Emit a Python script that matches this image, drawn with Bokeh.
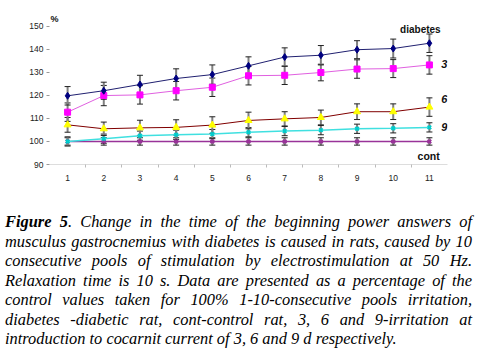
from bokeh.plotting import figure
from bokeh.models import (ColumnDataSource, Range1d, FixedTicker, Whisker, TeeHead,
                          Label, Div)
from bokeh.layouts import column
from bokeh.embed import file_html
from bokeh.resources import INLINE

# ---- data ----
pools = [1, 2, 3, 4, 5, 6, 7, 8, 9, 10, 11]
diabetes = [119.8, 122.0, 124.7, 127.3, 129.0, 132.8, 136.6, 137.4, 139.8, 140.3, 142.6]
diabetes_err = [4.0, 3.7, 4.0, 4.2, 4.2, 3.9, 4.0, 4.2, 3.9, 4.1, 4.0]
day3 = [112.7, 119.9, 120.2, 122.0, 123.5, 128.5, 128.7, 129.9, 131.4, 131.6, 133.2]
day3_err = [4.0, 4.4, 4.0, 4.0, 4.0, 4.0, 4.0, 3.6, 4.0, 3.9, 4.0]
day6 = [107.2, 105.5, 105.9, 106.1, 107.1, 109.1, 109.8, 110.4, 112.9, 112.9, 114.9]
day6_err = [3.2, 2.9, 3.3, 3.3, 3.6, 3.6, 3.1, 3.2, 3.4, 3.4, 4.0]
day9 = [100.0, 101.2, 102.5, 102.9, 103.2, 104.0, 104.5, 104.9, 105.5, 105.7, 106.1]
day9_err = [2.0, 2.0, 2.0, 2.0, 2.0, 2.0, 2.0, 2.0, 2.0, 2.0, 2.0]
cont = [100.0] * 11
cont_err = [1.6] * 11
y_ticks = [90, 100, 110, 120, 130, 140, 150]

p = figure(width=471, height=207, output_backend="svg", toolbar_location=None,
           x_range=Range1d(0.5, 11.5), y_range=Range1d(90, 156.8),
           min_border_left=49, min_border_right=24, min_border_top=10, min_border_bottom=43)
p.outline_line_color = None
p.grid.visible = False
p.background_fill_color = "white"

# axes
p.xaxis.ticker = FixedTicker(ticks=pools, minor_ticks=[i + 0.5 for i in range(1, 11)])
p.xaxis.axis_line_color = "#dddddd"
p.xaxis.major_tick_line_color = None
p.xaxis.minor_tick_line_color = "#bbbbbb"
p.xaxis.minor_tick_out = 3
p.xaxis.minor_tick_in = 0
p.xaxis.major_label_standoff = 4
p.xaxis.major_label_text_font = "Liberation Sans"
p.xaxis.major_label_text_font_size = "8.5px"
p.xaxis.major_label_text_color = "#222222"

p.yaxis.ticker = FixedTicker(ticks=y_ticks)
p.yaxis.axis_line_color = None
p.yaxis.major_tick_line_color = "#999999"
p.yaxis.major_tick_out = 3
p.yaxis.major_tick_in = 0
p.yaxis.minor_tick_line_color = None
p.yaxis.major_label_standoff = 3
p.yaxis.major_label_text_font = "Liberation Sans"
p.yaxis.major_label_text_font_size = "8.5px"
p.yaxis.major_label_text_color = "#222222"

series = [
    (cont, cont_err, "#993399", "#993399", "x", 5, 1.5),
    (day9, day9_err, "#40e0e0", "#00cccc", "x", 5, 1.5),
    (day6, day6_err, "#800000", "#ffff00", "triangle", 7, 1),
    (day3, day3_err, "#e060e0", "#ff00ff", "square", 6, 1),
    (diabetes, diabetes_err, "#202070", "#000080", "diamond", 7, 1),
]

for vals, errs, lcol, mcol, marker, msize, lw in series:
    src = ColumnDataSource(dict(x=pools, y=vals,
                                lo=[v - e for v, e in zip(vals, errs)],
                                hi=[v + e for v, e in zip(vals, errs)]))
    w = Whisker(source=src, base="x", lower="lo", upper="hi",
                line_color="#808080", line_width=2,
                upper_head=TeeHead(size=6, line_color="#222222", line_width=1),
                lower_head=TeeHead(size=6, line_color="#222222", line_width=1))
    p.add_layout(w)

for vals, errs, lcol, mcol, marker, msize, lw in series:
    src = ColumnDataSource(dict(x=pools, y=vals))
    p.line("x", "y", source=src, line_color=lcol, line_width=lw)
    if marker == "x":
        p.scatter("x", "y", source=src, marker=marker, size=msize,
                  line_color=mcol, line_width=2)
    else:
        p.scatter("x", "y", source=src, marker=marker, size=msize,
                  fill_color=mcol, line_color=mcol)

labels = [
    ("diabetes", 10.75, 148.6, "10px", "bold"),
    ("3", 11.41, 133.8, "11px", "bold italic"),
    ("6", 11.41, 118.2, "11px", "bold italic"),
    ("9", 11.41, 106.1, "11px", "bold italic"),
    ("cont", 10.98, 93.5, "10.5px", "bold"),
    ("%", 0.64, 152.9, "9px", "bold"),
]
for txt, lx, ly, fs, style in labels:
    p.add_layout(Label(x=lx, y=ly, text=txt, text_font="Liberation Sans",
                       text_font_size=fs, text_font_style=style,
                       text_align="center", text_baseline="middle",
                       text_color="#111111"))

caption_lines = [
    "<b>Figure 5</b>. Change in the time of the beginning power answers of",
    "musculus gastrocnemius with diabetes is caused in rats, caused by 10",
    "consecutive pools of stimulation by electrostimulation at 50 Hz.",
    "Relaxation time is 10 s. Data are presented as a percentage of the",
    "control values taken for 100% 1-10-consecutive pools irritation,",
    "diabetes -diabetic rat, cont-control rat, 3, 6 and 9-irritation at",
    "introduction to cocarnit current of 3, 6 and 9 d respectively.",
]
html_parts = []
for i, ln in enumerate(caption_lines):
    last = i == len(caption_lines) - 1
    align = "left" if last else "justify"
    html_parts.append(
        f'<div style="text-align:justify;text-align-last:{align};white-space:nowrap;">{ln}</div>')
caption_html = (
    '<div style="font-family:\'Liberation Serif\';font-style:italic;font-size:16.4px;'
    'line-height:19.5px;color:#000;width:467px;margin-left:0px;">' + "".join(html_parts) + "</div>")
div = Div(text=caption_html, width=470, height=145)

layout = column(p, div, spacing=0)
open("out.html", "w").write(file_html(layout, INLINE))
